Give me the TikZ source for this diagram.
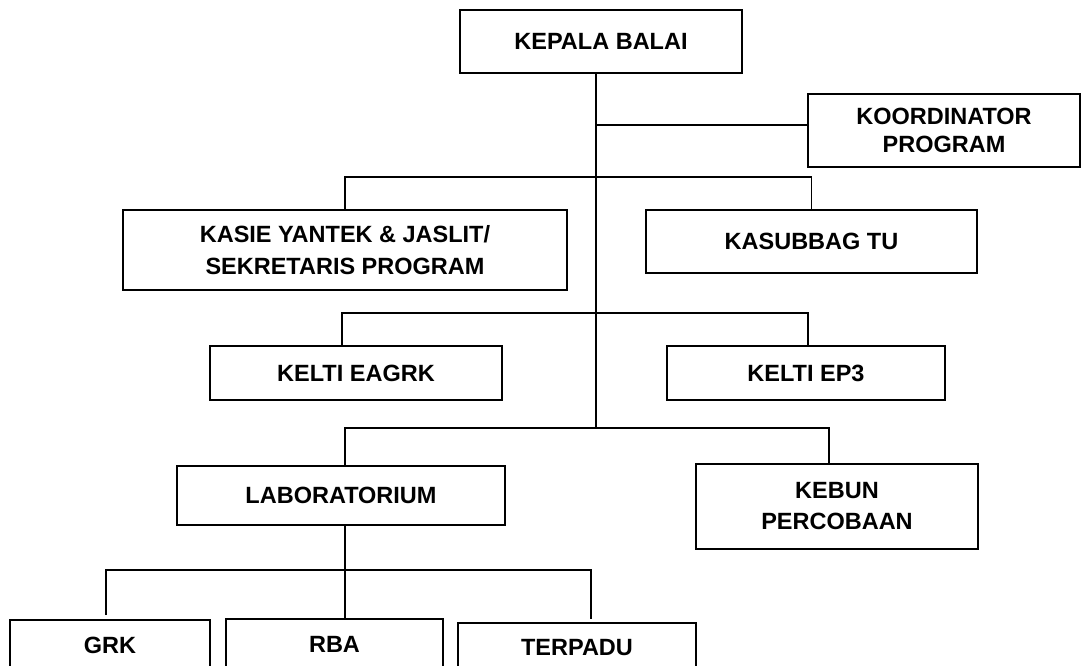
\documentclass[tikz,border=0pt]{standalone}
\usepackage{fontspec}
\setmainfont{Liberation Sans}
\begin{document}
\begin{tikzpicture}[x=1pt,y=-1pt,
  box/.style={draw,line width=1.8pt,rectangle,align=center,inner sep=0pt,
    font=\fontsize{23.5}{29}\selectfont\bfseries},
  conn/.style={line width=1.8pt}]
\useasboundingbox (0,0) rectangle (1082,666);
\clip (0,0) rectangle (1082,666);
% boxes
\node[box,minimum width=282pt,minimum height=63pt] (kepala) at (601,41.5) {KEPALA BALAI};
\node[box,minimum width=272pt,minimum height=73pt,font=\fontsize{23.5}{28}\selectfont\bfseries] (koord) at (944,130.5) {KOORDINATOR\\PROGRAM};
\node[box,minimum width=444pt,minimum height=80pt,font=\fontsize{23.5}{32}\selectfont\bfseries] (kasie) at (345,250) {KASIE YANTEK \& JASLIT/\\SEKRETARIS PROGRAM};
\node[box,minimum width=331pt,minimum height=63pt] (kasubbag) at (811.5,241.5) {KASUBBAG TU};
\node[box,minimum width=292pt,minimum height=54pt] (eagrk) at (356,373) {KELTI EAGRK};
\node[box,minimum width=278pt,minimum height=54pt] (ep3) at (806,373) {KELTI EP3};
\node[box,minimum width=328pt,minimum height=59pt] (lab) at (341,495.5) {LABORATORIUM};
\node[box,minimum width=282pt,minimum height=85pt,font=\fontsize{23.5}{31}\selectfont\bfseries] (kebun) at (837,506.5) {KEBUN\\PERCOBAAN};
\node[box,minimum width=200pt,minimum height=50pt] (grk) at (110,645) {GRK};
\node[box,minimum width=217pt,minimum height=50pt] (rba) at (334.5,644) {RBA};
\node[box,minimum width=238pt,minimum height=50pt] (terpadu) at (577,648) {TERPADU};
% junction coordinates
\coordinate (j1) at (596,125);
\coordinate (j2) at (596,177);
\coordinate (j3) at (596,313);
\coordinate (j4) at (596,428);
\coordinate (b3l) at (342,313);
\coordinate (b3r) at (808,313);
\coordinate (b4l) at (345,428);
\coordinate (b4r) at (829,428);
\coordinate (b5m) at (345,570);
\coordinate (b5l) at (106,570);
\coordinate (b5r) at (591,570);
\coordinate (e5l) at (106,615);
\coordinate (e5r) at (591,619);
% connectors
\draw[conn] (kepala.south -| j4) -- (j4);
\draw[conn] (j1) -- (j1 -| koord.west);
\draw[conn] (kasie.north) -- (kasie.north |- j2) -- (kasubbag.north |- j2) -- (kasubbag.north);
\draw[conn] (eagrk.north -| b3l) -- (b3l) -- (b3r) -- (ep3.north -| b3r);
\draw[conn] (lab.north -| b4l) -- (b4l) -- (b4r) -- (kebun.north -| b4r);
\draw[conn] (lab.south -| b5m) -- (b5m);
\draw[conn] (e5l) -- (b5l) -- (b5r) -- (e5r);
\draw[conn] (b5m) -- (rba.north -| b5m);
\end{tikzpicture}
\end{document}
